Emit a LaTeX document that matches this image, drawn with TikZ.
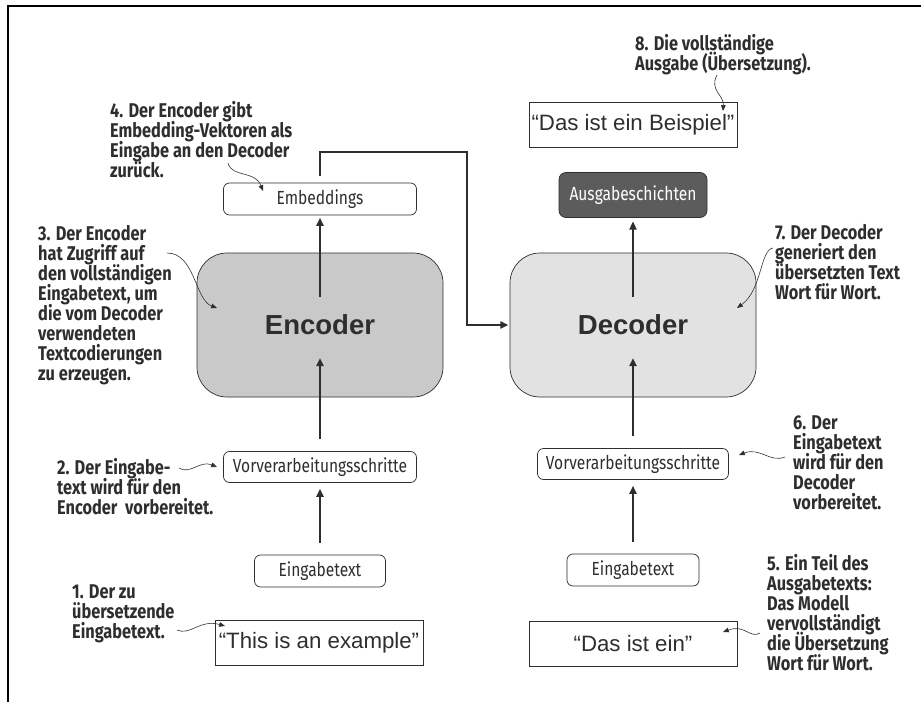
\documentclass[tikz,border=0pt]{standalone}
\usepackage{fontspec}
\setmainfont{Liberation Sans}
\newfontfamily\condfont[FakeStretch=0.82]{Fira Sans}
\usetikzlibrary{positioning,calc,arrows.meta}

\definecolor{inkgray}{HTML}{2E2E2E}
\definecolor{encfill}{HTML}{C9C9C9}
\definecolor{decfill}{HTML}{E2E2E2}
\definecolor{outfill}{HTML}{5C5C5C}

\newlength\px
\setlength\px{0.03cm}
\newcommand\notesize{\fontsize{17}{17.07}\selectfont\setlength\lineskiplimit{-20pt}\setlength\lineskip{0pt}}

\tikzset{
	box/.style={draw=inkgray, line width=0.6pt, rounded corners=6\px, inner sep=0pt,
		font=\condfont\fontsize{16.2}{20}\selectfont, text=inkgray},
	quotebox/.style={draw=inkgray, line width=0.6pt, inner sep=0pt,
		minimum width=208\px, minimum height=45\px, font=\fontsize{19}{22}\selectfont, text=inkgray},
	coder/.style={draw=inkgray, line width=0.6pt, rounded corners=30\px, inner sep=0pt,
		minimum width=246\px, minimum height=144\px, font=\bfseries\fontsize{23.5}{26}\selectfont, text=inkgray},
	note/.style={anchor=north west, align=left, inner sep=0pt, text=inkgray,
		font=\condfont\bfseries\notesize},
	flow/.style={draw=inkgray, line width=1.8pt, -{Triangle[length=7pt,width=6pt]}},
	hint/.style={draw=inkgray, line width=0.5pt, -{Triangle[length=5pt,width=4pt]}}
}

\begin{document}
\begin{tikzpicture}[x=0.03cm, y=-0.03cm]
	\useasboundingbox (0,0) rectangle (921,702);
	
	% frame
	\draw[black, line width=1.6pt] (8,702) -- (8,6) -- (921,6);
	
	% encoder side
	\node[coder, fill=encfill] (enc) at (320,325) {Encoder};
	\node[box, minimum width=193\px, minimum height=32\px] (emb) at (320,199) {Embeddings};
	\node[box, minimum width=193\px, minimum height=31\px] (prel) at (320,467) {Vorverarbeitungsschritte};
	\node[box, minimum width=131\px, minimum height=32\px] (inpl) at (320,571) {Eingabetext};
	\node[quotebox] (srcl) at (319,643) {``This is an example''};
	
	% decoder side
	\node[coder, fill=decfill] (dec) at (633,325) {Decoder};
	\node[box, fill=outfill, text=white, rounded corners=7\px, minimum width=148\px, minimum height=45\px] (outl) at (633,195) {Ausgabeschichten};
	\node[quotebox] (outr) at (633,125) {``Das ist ein Beispiel''};
	\node[box, minimum width=191\px, minimum height=31\px] (prer) at (633,464) {Vorverarbeitungsschritte};
	\node[box, minimum width=132\px, minimum height=32\px] (inpr) at (633,570) {Eingabetext};
	\node[quotebox] (partr) at (633,644) {``Das ist ein''};
	
	% arrow ends inside the coders
	\coordinate (encin) at (320,358);
	\coordinate (encout) at (320,297);
	\coordinate (decin) at (633,358);
	\coordinate (decout) at (633,297);
	\coordinate (bend) at (467,152);
	
	\draw[flow, shorten <=10pt, shorten >=5pt] (inpl.north) -- (prel.south);
	\draw[flow, shorten <=10pt] (prel.north) -- (encin);
	\draw[flow, shorten >=2pt] (encout) -- (emb.south);
	\draw[flow, shorten <=10pt, shorten >=5pt] (inpr.north) -- (prer.south);
	\draw[flow, shorten <=10pt] (prer.north) -- (decin);
	\draw[flow, shorten >=3pt] (decout) -- (outl.south);
	\draw[flow, shorten <=6pt, shorten >=1pt] (emb.north) |- (bend) |- (dec.west);
	
	% notes
	\node[note] (n1) at (72,584) {1. Der zu\\übersetzende\\Eingabetext.};
	\node[note] (n2) at (57,458) {2. Der Eingabe-\\text wird für den\\Encoder~ vorbereitet.};
	\node[note] (n3) at (38,225) {3. Der Encoder\\hat Zugriff auf\\den vollständigen\\Eingabetext, um\\die vom Decoder\\verwendeten\\Textcodierungen\\zu erzeugen.};
	\node[note] (n4) at (110,101) {4. Der Encoder gibt\\Embedding-Vektoren als\\Eingabe an den Decoder\\zurück.};
	\node[note] (n5) at (767,554) {5. Ein Teil des\\Ausgabetexts:\\Das Modell\\vervollständigt\\die Übersetzung\\Wort für Wort.};
	\node[note] (n6) at (793,415) {6. Der\\Eingabetext\\wird für den\\Decoder\\vorbereitet.};
	\node[note] (n7) at (775,224) {7. Der Decoder\\generiert den\\übersetzten Text\\Wort für Wort.};
	\node[note] (n8) at (635,34) {8. Die vollständige\\Ausgabe (Übersetzung).};
	
	% pointers
	\draw[hint] (177,630) .. controls (190,636) and (200,619) .. (225,626);
	\draw[hint] (179,468) .. controls (190,475) and (200,460) .. (217,467);
	\draw[hint] (167,253) .. controls (195,253) and (195,300) .. (217,308);
	\draw[hint] (228,163) .. controls (232,178) and (255,170) .. (263,191);
	\draw[hint] (760,633) .. controls (750,639) and (745,624) .. (723,632);
	\draw[hint] (785,457) .. controls (770,463) and (760,447) .. (739,455);
	\draw[hint] (773,248) .. controls (760,250) and (762,290) .. (737,308);
	\draw[hint] (717,75) .. controls (709,90) and (724,95) .. (723,111);
\end{tikzpicture}
\end{document}
